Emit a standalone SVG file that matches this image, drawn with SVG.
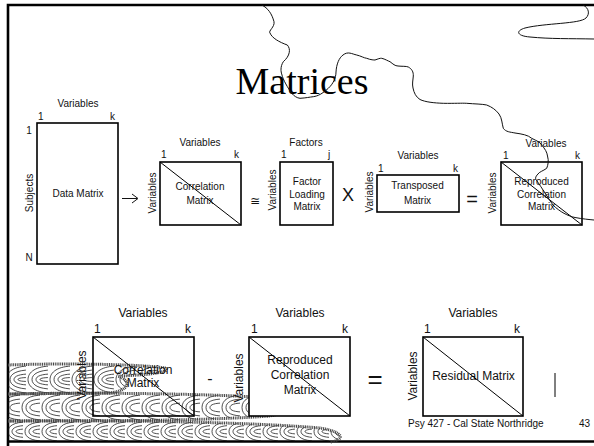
<svg xmlns="http://www.w3.org/2000/svg" width="594" height="446" viewBox="0 0 594 446">
  <style>
    .lbl { font-family: "Liberation Sans", Arial, sans-serif; font-size: 10px; fill: #111; }
    .lbl12 { font-family: "Liberation Sans", Arial, sans-serif; font-size: 12px; fill: #111; }
    .mid { text-anchor: middle; }
    .box { fill: #fff; stroke: #000; stroke-width: 1.6; }
    .diag { stroke: #000; stroke-width: 1; fill: none; }
    .frame { stroke: #000; stroke-width: 2.6; fill: none; }
    .wire { fill: none; stroke: #111; stroke-width: 1; }
    .grain { fill: none; stroke: #111; stroke-width: 0.75; }
    .edge { fill: none; stroke: #444; stroke-width: 3; stroke-dasharray: 1 0.8; }
    .op { font-family: "Liberation Sans", Arial, sans-serif; fill: #111; text-anchor: middle; }
  </style>
  <defs>
    <!-- nested crescents that make up the wood-grain ornament -->
    <pattern id="grainA" patternUnits="userSpaceOnUse" x="4" y="365" width="22" height="29">
      <path class="grain" d="M26,1 C10,1 2,7 2,14.5 C2,22 10,28 26,28 M26,5 C13,5 6,9 6,14.5 C6,20 13,24 26,24 M26,9 C16,9 10,11 10,14.5 C10,18 16,20 26,20 M26,12.5 C19,12.5 14,13 14,14.5 C14,16 19,16.5 26,16.5"/>
    </pattern>
    <pattern id="grainB" patternUnits="userSpaceOnUse" x="0" y="394" width="20" height="27">
      <path class="grain" d="M24,1 C9,1 2,6 2,13.5 C2,21 9,26 24,26 M24,5 C12,5 6,8 6,13.5 C6,19 12,22 24,22 M24,9 C15,9 10,10.5 10,13.5 C10,16.5 15,18 24,18"/>
    </pattern>
    <pattern id="grainC" patternUnits="userSpaceOnUse" x="6" y="421" width="17" height="21">
      <path class="grain" d="M21,1 C8,1 2,5 2,10.5 C2,16 8,20 21,20 M21,4.5 C11,4.5 6,7 6,10.5 C6,14 11,16.5 21,16.5 M21,8 C14,8 10,9 10,10.5 C10,12 14,13 21,13"/>
    </pattern>
  </defs>

  <!-- page frame -->
  <path class="frame" d="M594,5 L8,5 L8,446"/>
  <path class="frame" d="M8,441.5 L594,441.5"/>

  <!-- wood-grain ornament, lower left -->
  <g id="ornament">
    <path d="M8,365 C60,363 140,364 165,368 C172,372 150,375 118,376 C132,381 130,390 110,393 L8,394 Z" fill="url(#grainA)"/>
    <path class="edge" d="M8,365 C60,363 140,364 165,368 C172,372 150,375 118,376 C132,381 130,390 110,393 L8,394"/>
    <path d="M8,394 C100,392 220,394 270,398 C292,402 290,412 270,416 C200,421 100,421 8,421 Z" fill="url(#grainB)"/>
    <path class="edge" d="M8,394 C100,392 220,394 270,398 C292,402 290,412 270,416 C200,421 100,421 8,421"/>
    <path d="M8,421 C120,420 250,422 320,428 C345,432 345,440 330,442 L8,442 Z" fill="url(#grainC)"/>
    <path class="edge" d="M8,421 C120,420 250,422 320,428 C345,432 345,440 330,442"/>
  </g>

  <!-- title -->
  <text x="302" y="94" font-family="'Liberation Serif', 'Times New Roman', serif" font-size="38" fill="#000" text-anchor="middle">Matrices</text>

  <!-- data matrix -->
  <g id="data-matrix">
    <text class="lbl mid" x="78" y="107">Variables</text>
    <text class="lbl" x="38" y="120">1</text>
    <text class="lbl" x="110" y="120">k</text>
    <text class="lbl mid" x="29" y="134">1</text>
    <text class="lbl mid" x="29" y="261">N</text>
    <text class="lbl mid" transform="rotate(-90 33 193)" x="33" y="193">Subjects</text>
    <rect class="box" x="37" y="123" width="81" height="141"/>
    <text class="lbl mid" x="78" y="197">Data Matrix</text>
  </g>

  <!-- correlation matrix, top row -->
  <g id="corr-top">
    <text class="lbl mid" x="200" y="146">Variables</text>
    <text class="lbl" x="161" y="158">1</text>
    <text class="lbl" x="234" y="158">k</text>
    <text class="lbl mid" transform="rotate(-90 156 193)" x="156" y="193">Variables</text>
    <rect class="box" x="160" y="162" width="81" height="63"/>
    <text class="lbl mid" x="200" y="190">Correlation</text>
    <text class="lbl mid" x="200" y="204">Matrix</text>
    <line class="diag" x1="160" y1="162" x2="241" y2="225"/>
  </g>

  <text id="approx" x="255" y="205" font-family="'DejaVu Sans', sans-serif" font-size="12" fill="#111" text-anchor="middle">≅</text>

  <!-- factor loading matrix -->
  <g id="loading">
    <text class="lbl mid" x="306" y="146">Factors</text>
    <text class="lbl" x="281" y="158">1</text>
    <text class="lbl" x="328" y="158">j</text>
    <text class="lbl mid" transform="rotate(-90 276 190)" x="276" y="190">Variables</text>
    <rect class="box" x="280" y="162" width="53" height="63"/>
    <text class="lbl mid" x="307" y="185">Factor</text>
    <text class="lbl mid" x="307" y="197.5">Loading</text>
    <text class="lbl mid" x="307" y="210">Matrix</text>
  </g>

  <text id="times" class="op" x="348" y="201" font-size="18">X</text>

  <!-- transposed matrix -->
  <g id="transposed">
    <text class="lbl mid" x="418" y="159">Variables</text>
    <text class="lbl" x="378" y="171.5">1</text>
    <text class="lbl" x="453" y="171.5">k</text>
    <text class="lbl mid" transform="rotate(-90 373 192)" x="373" y="192">Variables</text>
    <rect class="box" x="377" y="175" width="82" height="37"/>
    <text class="lbl mid" x="417.5" y="189">Transposed</text>
    <text class="lbl mid" x="417.5" y="204">Matrix</text>
  </g>

  <text id="equals-top" class="op" x="472" y="206" font-size="20">=</text>

  <!-- reproduced correlation matrix, top row -->
  <g id="repro-top">
    <text class="lbl mid" x="546" y="146.5">Variables</text>
    <text class="lbl" x="503" y="158.5">1</text>
    <text class="lbl" x="575" y="158.5">k</text>
    <text class="lbl mid" transform="rotate(-90 496 193)" x="496" y="193">Variables</text>
    <rect class="box" x="501" y="162" width="81" height="63"/>
    <text class="lbl mid" x="541.5" y="185">Reproduced</text>
    <text class="lbl mid" x="541.5" y="197.5">Correlation</text>
    <text class="lbl mid" x="541.5" y="209.5">Matrix</text>
    <line class="diag" x1="501" y1="162" x2="582" y2="225"/>
  </g>

  <!-- correlation matrix, bottom row (open so the ornament shows through) -->
  <g id="corr-bottom">
    <text class="lbl12 mid" x="143" y="317">Variables</text>
    <text class="lbl12" x="94" y="333">1</text>
    <text class="lbl12" x="185" y="333">k</text>
    <text class="lbl12 mid" transform="rotate(-90 86 375)" x="86" y="375">Variables</text>
    <rect x="93" y="337" width="101" height="79" fill="none" stroke="#000" stroke-width="1.6"/>
    <text class="lbl12 mid" x="143" y="373.5">Correlation</text>
    <text class="lbl12 mid" x="143" y="387">Matrix</text>
    <line class="diag" x1="93" y1="337" x2="194" y2="416"/>
  </g>

  <text id="minus" class="op" x="210" y="384" font-size="16">-</text>

  <!-- reproduced correlation matrix, bottom row -->
  <g id="repro-bottom">
    <text class="lbl12 mid" x="300" y="317">Variables</text>
    <text class="lbl12" x="251" y="333">1</text>
    <text class="lbl12" x="342" y="333">k</text>
    <text class="lbl12 mid" transform="rotate(-90 243 378)" x="243" y="378">Variables</text>
    <rect x="249" y="337" width="101" height="79" fill="#fff" stroke="#000" stroke-width="1.6"/>
    <text class="lbl12 mid" x="300" y="364">Reproduced</text>
    <text class="lbl12 mid" x="300" y="379">Correlation</text>
    <text class="lbl12 mid" x="300" y="394">Matrix</text>
    <line class="diag" x1="249" y1="337" x2="350" y2="416"/>
  </g>

  <text id="equals-bottom" class="op" x="375" y="388" font-size="26">=</text>

  <!-- residual matrix -->
  <g id="residual">
    <text class="lbl12 mid" x="473" y="317">Variables</text>
    <text class="lbl12" x="424" y="333">1</text>
    <text class="lbl12" x="514" y="333">k</text>
    <text class="lbl12 mid" transform="rotate(-90 417 376)" x="417" y="376">Variables</text>
    <rect class="box" x="423" y="337" width="100" height="79"/>
    <text class="lbl12 mid" x="473.5" y="380">Residual Matrix</text>
    <line class="diag" x1="423" y1="337" x2="523" y2="416"/>
  </g>

  <line x1="555" y1="373" x2="555" y2="397" stroke="#000" stroke-width="1"/>

  <!-- connectors -->
  <g id="connectors">
    <line class="wire" x1="122" y1="198.5" x2="137" y2="198.5" stroke-width="1.1"/>
    <path class="wire" d="M132,194 L138,198.5 L132,203" stroke-width="1.1"/>
  </g>

  <!-- hand-drawn squiggles -->
  <g id="squiggles">
    <path class="wire" d="M261.7,5 C268,8 272,14 274,21.7 C275,27 268,31 270,33 C272,38 279,42 287.3,45 C291,49 290,56 283.3,61.7 C280,67 281,72 281.7,74 C283,80 288,88 291.7,93.3 C294,96 297,98 300,98.3 C306,98 310,97 313.3,96.7 C318,96 322,94 328.3,88.3 C333,84 336,78 336,72 C336.5,64 339,58 343,55 C348,51 352,54 356.7,55 C361,56 364,58 366.7,58.3 C371,60 374,60 375,60 C378,59 380,58 381.7,58.3 C385,59 388,61 390,61.7 C393,64 395,66 398,66 C402,66.5 406,66 408.3,67 C412,69 413.5,72 413.3,76 C413,80 412,84 413,88 C414,93 416,97 420,99.5 C425,102 434,103 443.3,103.3 C455,103.5 462,103 466.7,103.3 C475,104 482,104 486.7,105 C492,107 496,110 499,114 C502,118 502,124 503.3,128.3 C506,132 510,132 515,133 C522,134 528,135 531.7,138.3 C537,141 540,142 541.7,145 C545,149 547,152 547.5,156 C549,161 548,165 546.7,168.3 C543,171 539,172 538,174 C535,177 535,179 537,181 C542,188 548,198 553,205 C560,212 568,216 575,217.5 C583,219 589,219.5 594,220"/>
    <path class="wire" d="M583,5 C589,8 590,14 586,18 C580,24 545,23 525,28 C515,31 517,36 530,37 C550,39 570,38.5 594,39"/>
  </g>

  <!-- footer -->
  <text class="lbl" x="408" y="427">Psy 427 - Cal State Northridge</text>
  <text class="lbl" x="579" y="427">43</text>
</svg>
